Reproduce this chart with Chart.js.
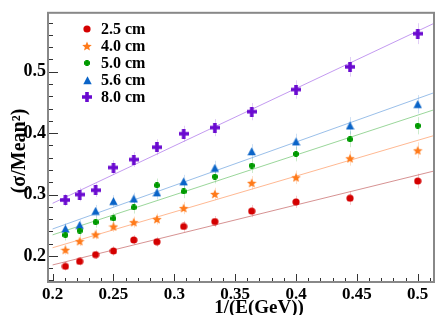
<!DOCTYPE html>
<html><head><meta charset="utf-8">
<script src="https://cdn.jsdelivr.net/npm/chart.js@4"></script>
<style>html,body{margin:0;padding:0;background:#fff}canvas{display:block}</style>
</head><body>
<canvas id="c" width="441" height="315"></canvas>
<script>
// ---- data ----
const xValues = [0.2105, 0.2222, 0.2353, 0.25, 0.2667, 0.2857, 0.3077, 0.3333, 0.3636, 0.4, 0.4444, 0.5];
const seriesNames = ['2.5 cm', '4.0 cm', '5.0 cm', '5.6 cm', '8.0 cm'];
const red    = [0.183, 0.191, 0.202, 0.208, 0.226, 0.223, 0.248, 0.256, 0.273, 0.288, 0.294, 0.322];
const orange = [0.210, 0.224, 0.235, 0.248, 0.255, 0.260, 0.278, 0.301, 0.319, 0.328, 0.359, 0.372];
const green  = [0.234, 0.241, 0.255, 0.261, 0.279, 0.315, 0.305, 0.329, 0.347, 0.366, 0.390, 0.412];
const blue   = [0.244, 0.250, 0.273, 0.289, 0.293, 0.303, 0.321, 0.343, 0.370, 0.386, 0.412, 0.447];
const purple = [0.291, 0.300, 0.307, 0.344, 0.357, 0.377, 0.399, 0.409, 0.435, 0.471, 0.508, 0.562];
const redErr    = [0.007, 0.007, 0.007, 0.008, 0.008, 0.008, 0.009, 0.009, 0.010, 0.010, 0.011, 0.012];
const orangeErr = [0.008, 0.008, 0.008, 0.009, 0.009, 0.009, 0.010, 0.010, 0.011, 0.011, 0.012, 0.013];
const greenErr  = [0.009, 0.009, 0.009, 0.009, 0.010, 0.011, 0.011, 0.011, 0.012, 0.012, 0.013, 0.014];
const blueErr   = [0.009, 0.009, 0.010, 0.010, 0.010, 0.011, 0.011, 0.012, 0.012, 0.013, 0.014, 0.015];
const purpleErr = [0.010, 0.011, 0.011, 0.012, 0.012, 0.013, 0.013, 0.014, 0.014, 0.015, 0.016, 0.017];
const fitX = [0.2, 0.52];
const redFit    = [0.1853, 0.3415];
const orangeFit = [0.2133, 0.3999];
const greenFit  = [0.2343, 0.4423];
const blueFit   = [0.2439, 0.4705];
const purpleFit = [0.2857, 0.5850];
const xTicks = [0.2, 0.25, 0.3, 0.35, 0.4, 0.45, 0.5];
const xTickLabels = ['0.2', '0.25', '0.3', '0.35', '0.4', '0.45', '0.5'];
const yTicks = [0.2, 0.3, 0.4, 0.5];
const yTickLabels = ['0.2', '0.3', '0.4', '0.5'];
const xTitle = '1/(E(GeV))';
const yTitle = '(σ/Mean²)';

// ---- styles ----
const SERIF = '"Liberation Serif", "DejaVu Serif", serif';
const markerColors = ['#d40000', '#ff7a1a', '#009a00', '#0a64c8', '#6a0ad0'];
const lineColors = ['rgba(200,110,110,0.75)', 'rgba(255,160,110,0.75)', 'rgba(120,200,120,0.75)', 'rgba(120,170,225,0.75)', 'rgba(175,120,235,0.75)'];
const errColors = ['rgba(212,0,0,0.2)', 'rgba(255,122,26,0.25)', 'rgba(0,154,0,0.2)', 'rgba(10,100,200,0.2)', 'rgba(106,10,208,0.2)'];

function mk(shape, color, size) {
  const c = document.createElement('canvas');
  c.width = size; c.height = size;
  const g = c.getContext('2d');
  const m = size / 2;
  g.fillStyle = color;
  g.beginPath();
  if (shape === 'circle') {
    g.arc(m, m, size / 2 - 0.4, 0, Math.PI * 2);
  } else if (shape === 'star') {
    const R = size / 2, r = R * 0.45;
    for (let i = 0; i < 10; i++) {
      const a = -Math.PI / 2 + i * Math.PI / 5;
      const rr = i % 2 ? r : R;
      const px = m + rr * Math.cos(a), py = m + 0.5 + rr * Math.sin(a);
      i ? g.lineTo(px, py) : g.moveTo(px, py);
    }
    g.closePath();
  } else if (shape === 'tri') {
    g.moveTo(m, 0.3); g.lineTo(size - 0.3, size - 0.8); g.lineTo(0.3, size - 0.8); g.closePath();
  } else if (shape === 'cross') {
    const w = size * 0.36;
    g.rect(m - w / 2, 0, w, size); g.rect(0, m - w / 2, size, w);
  } else if (shape === 'gcross') {
    const w = size * 0.55;
    g.rect(m - w / 2, 0, w, size); g.rect(0, m - w / 2, size, w);
  }
  g.fill();
  return c;
}
const markers = [mk('circle', markerColors[0], 8), mk('star', markerColors[1], 10), mk('gcross', markerColors[2], 6), mk('tri', markerColors[3], 9), mk('cross', markerColors[4], 10)];

const values = [red, orange, green, blue, purple];
const errs = [redErr, orangeErr, greenErr, blueErr, purpleErr];
const fits = [redFit, orangeFit, greenFit, blueFit, purpleFit];

const datasets = [];
fits.forEach((f, i) => datasets.push({
  type: 'line', label: 'fit' + i, data: fitX.map((x, k) => ({x, y: f[k]})),
  borderColor: lineColors[i], borderWidth: 1, pointRadius: 0, fill: false, order: 10
}));
values.forEach((v, i) => datasets.push({
  type: 'scatter', label: seriesNames[i], data: xValues.map((x, k) => ({x, y: v[k]})),
  pointStyle: markers[i], pointRadius: 4, pointHoverRadius: 4, order: 1
}));

const framePlugin = {
  id: 'frame',
  beforeDatasetsDraw(chart) {
    const {ctx, scales: {x, y}} = chart;
    ctx.save();
    ctx.beginPath();
    const a = chart.chartArea;
    ctx.rect(a.left, a.top, a.right - a.left, a.bottom - a.top);
    ctx.clip();
    ctx.lineWidth = 1;
    errs.forEach((e, i) => {
      ctx.strokeStyle = errColors[i];
      xValues.forEach((xv, k) => {
        const px = Math.round(x.getPixelForValue(xv)) + 0.5;
        ctx.beginPath();
        ctx.moveTo(px, y.getPixelForValue(values[i][k] - e[k]));
        ctx.lineTo(px, y.getPixelForValue(values[i][k] + e[k]));
        ctx.stroke();
      });
    });
    ctx.restore();
  },
  afterDraw(chart) {
    const {ctx, scales: {x, y}} = chart;
    const a = chart.chartArea;
    ctx.save();
    ctx.strokeStyle = '#333';
    ctx.lineWidth = 1;
    for (let i = 0; i <= 32; i++) {
      const v = 0.2 + i * 0.01;
      if (v > x.max) break;
      const px = Math.round(x.getPixelForValue(v)) + 0.5;
      const len = (i % 5 === 0) ? 8 : 4;
      ctx.beginPath(); ctx.moveTo(px, a.bottom); ctx.lineTo(px, a.bottom - len); ctx.stroke();
    }
    for (let i = -2; i <= 20; i++) {
      const v = 0.2 + i * 0.02;
      if (v < y.min || v > y.max) continue;
      const py = Math.round(y.getPixelForValue(v)) + 0.5;
      const len = (i % 5 === 0) ? 10 : 5;
      ctx.beginPath(); ctx.moveTo(a.left, py); ctx.lineTo(a.left + len, py); ctx.stroke();
    }
    ctx.strokeStyle = '#888';
    ctx.lineWidth = 2;
    ctx.strokeRect(a.left, a.top, a.right - a.left, a.bottom - a.top);
    ctx.fillStyle = '#000';
    ctx.font = 'bold 19px ' + SERIF;
    ctx.textAlign = 'center'; ctx.textBaseline = 'alphabetic';
    ctx.fillText(xTitle, 259, 313);
    ctx.save();
    ctx.font = 'bold 20px ' + SERIF;
    ctx.translate(25, 151); ctx.rotate(-Math.PI / 2);
    ctx.fillText(yTitle, 0, 0);
    ctx.restore();
    ctx.font = 'bold 16px ' + SERIF;
    ctx.textAlign = 'left'; ctx.textBaseline = 'middle';
    seriesNames.forEach((n, i) => {
      const ly = 29 + i * 17;
      const m = markers[i];
      ctx.drawImage(m, Math.round(87 - m.width / 2), Math.round(ly - m.height / 2));
      ctx.fillText(n, 101, ly + 1);
    });
    ctx.restore();
  }
};

new Chart(document.getElementById('c'), {
  data: {datasets},
  options: {
    responsive: false, animation: false, devicePixelRatio: 1,
    layout: {padding: {left: 0, right: 7, top: 3, bottom: 0}},
    plugins: {legend: {display: false}, tooltip: {enabled: false}},
    scales: {
      x: {
        type: 'linear', min: 0.1962, max: 0.5134,
        afterBuildTicks: s => { s.ticks = xTicks.map(v => ({value: v})); },
        afterFit: s => { s.height = 33; },
        grid: {display: false, drawTicks: false}, border: {display: false},
        ticks: {autoSkip: false, maxRotation: 0, padding: 2, color: '#000',
          font: {family: SERIF, size: 17, weight: 'bold'},
          callback: (v, i) => xTickLabels[i]}
      },
      y: {
        type: 'linear', min: 0.1575, max: 0.596,
        afterBuildTicks: s => { s.ticks = yTicks.map(v => ({value: v})); },
        afterFit: s => { s.width = 48; },
        grid: {display: false, drawTicks: false}, border: {display: false},
        ticks: {autoSkip: false, padding: 2, color: '#000',
          font: {family: SERIF, size: 18, weight: 'bold'},
          callback: (v, i) => yTickLabels[i]}
      }
    }
  },
  plugins: [framePlugin]
});
</script>
</body></html>
